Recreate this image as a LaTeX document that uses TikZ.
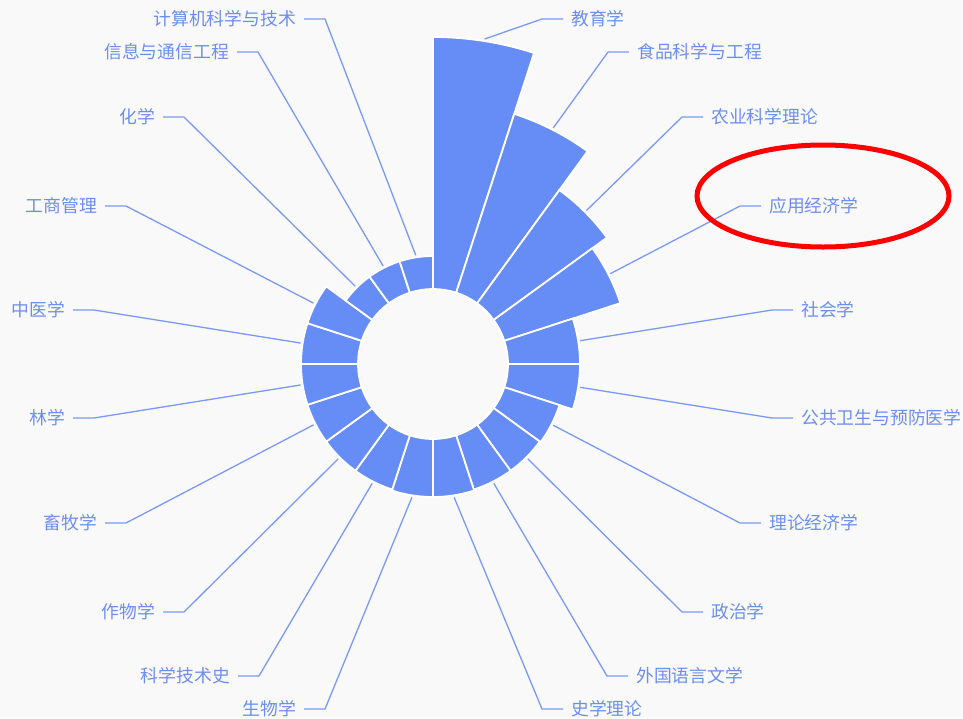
\documentclass[tikz,border=0pt]{standalone}
\usepackage{fontspec}
\newfontfamily\cjk{Noto Sans CJK SC}
\usetikzlibrary{calc}
\definecolor{secfill}{RGB}{102,140,245}
\definecolor{lblline}{RGB}{122,154,245}
\definecolor{lbltext}{RGB}{108,142,240}
\definecolor{bg}{RGB}{249,249,249}
\begin{document}
\begin{tikzpicture}[x=1pt,y=1pt,
  sector/.style={fill=secfill, draw=white, line width=1.8pt, line join=miter},
  leader/.style={draw=lblline, line width=1.3pt},
  lblR/.style={anchor=west, inner xsep=8pt, inner ysep=0pt, text=lbltext, font=\cjk\fontsize{17.8}{20}\selectfont},
  lblL/.style={lblR, anchor=east},
  mark ellipse/.style={draw=red, line width=5pt}]
\fill[bg] (0,0) rectangle (963,-718);
\useasboundingbox (0,0) rectangle (963,-718);
\coordinate (c) at (433,-364);
% sectors
\foreach \i/\r in {1/327,2/263,3/215,4/197,5/147,6/147,7/133,8/132,9/132,10/133,11/133,12/132,13/132,14/132,15/132,16/132,17/132,18/108,19/108,20/108} {
  \pgfmathsetmacro\aa{90-18*(\i-1)}
  \pgfmathsetmacro\ab{90-18*\i}
  \draw[sector] ($(c)+(\aa:75)$) arc[start angle=\aa, end angle=\ab, radius=75] -- ($(c)+(\ab:\r)$) arc[start angle=\ab, end angle=\aa, radius=\r] -- cycle;
}
% right-side labels
\foreach \i/\r/\bx/\by/\t in {1/327/542/19/教育学,2/263/608/52/食品科学与工程,3/215/682/117/农业科学理论,4/197/740/206/应用经济学,5/147/772/310/社会学,6/147/772/418/公共卫生与预防医学,7/133/740/523/理论经济学,8/132/682/612/政治学,9/132/607/676/外国语言文学,10/133/542/709/史学理论} {
  \pgfmathsetmacro\am{99-18*\i}
  \coordinate (s\i) at ($(c)+(\am:{\r+2})$);
  \coordinate (b\i) at (\bx,-\by);
  \node[lblR] (l\i) at (\bx+21,-\by) {\t};
  \draw[leader] (s\i) -- (b\i) -- (l\i.west);
}
% left-side labels
\foreach \i/\r/\bx/\by/\t in {11/133/325/709/生物学,12/132/259/676/科学技术史,13/132/184/612/作物学,14/132/126/523/畜牧学,15/132/94/418/林学,16/132/94/310/中医学,17/132/126/206/工商管理,18/108/184/117/化学,19/108/258/52/信息与通信工程,20/108/325/19/计算机科学与技术} {
  \pgfmathsetmacro\am{99-18*\i}
  \coordinate (s\i) at ($(c)+(\am:{\r+2})$);
  \coordinate (b\i) at (\bx,-\by);
  \node[lblL] (l\i) at (\bx-21,-\by) {\t};
  \draw[leader] (s\i) -- (b\i) -- (l\i.east);
}
% highlight
\draw[mark ellipse] (823,-196) ellipse [x radius=126, y radius=51];
\end{tikzpicture}
\end{document}
